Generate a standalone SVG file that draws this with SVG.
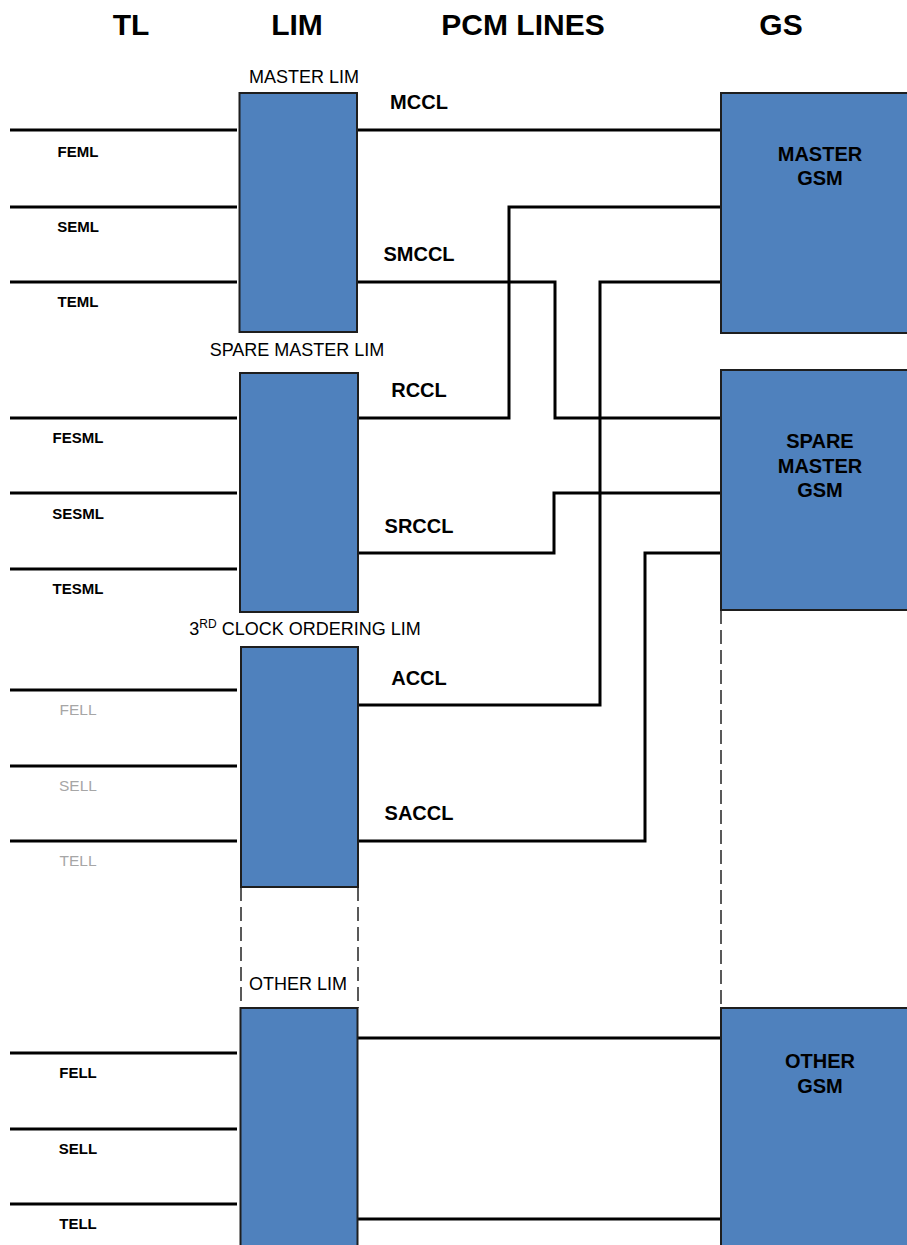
<svg xmlns="http://www.w3.org/2000/svg" width="907" height="1245" viewBox="0 0 907 1245">
<style>
.box{fill:#4f81bd;stroke:#1e1e1e;stroke-width:2}
.ln{fill:none;stroke:#000;stroke-width:3;stroke-linejoin:miter}
.dash{fill:none;stroke:#595959;stroke-width:2;stroke-dasharray:14 6}
.hdr{font-family:"Liberation Sans",Arial,sans-serif;font-weight:bold;font-size:30px;fill:#000;text-anchor:middle}
.lim{font-family:"Liberation Sans",Arial,sans-serif;font-size:18px;fill:#000;text-anchor:middle}
.pcm{font-family:"Liberation Sans",Arial,sans-serif;font-weight:bold;font-size:20px;fill:#000;text-anchor:middle}
.tl{font-family:"Liberation Sans",Arial,sans-serif;font-weight:bold;font-size:15px;fill:#000;text-anchor:middle}
.tlg{font-family:"Liberation Sans",Arial,sans-serif;font-size:15.5px;fill:#a6a6a6;text-anchor:middle}
.gsm{font-family:"Liberation Sans",Arial,sans-serif;font-weight:bold;font-size:20px;fill:#000;text-anchor:middle}
</style>
<g id="headers">
<text class="hdr" x="131" y="35">TL</text>
<text class="hdr" x="297" y="35">LIM</text>
<text class="hdr" x="523" y="35">PCM LINES</text>
<text class="hdr" x="781" y="35">GS</text>
</g>
<g id="connectors">
<line class="dash" x1="241" y1="887" x2="241" y2="1008"/>
<line class="dash" x1="358" y1="887" x2="358" y2="1008"/>
<line class="dash" x1="721" y1="610" x2="721" y2="1008"/>
<!-- TL lines -->
<line class="ln" x1="10" y1="130" x2="237" y2="130"/>
<line class="ln" x1="10" y1="207" x2="237" y2="207"/>
<line class="ln" x1="10" y1="282" x2="237" y2="282"/>
<line class="ln" x1="10" y1="418" x2="237" y2="418"/>
<line class="ln" x1="10" y1="493" x2="237" y2="493"/>
<line class="ln" x1="10" y1="569" x2="237" y2="569"/>
<line class="ln" x1="10" y1="690" x2="237" y2="690"/>
<line class="ln" x1="10" y1="766" x2="237" y2="766"/>
<line class="ln" x1="10" y1="841" x2="237" y2="841"/>
<line class="ln" x1="10" y1="1053" x2="237" y2="1053"/>
<line class="ln" x1="10" y1="1129" x2="237" y2="1129"/>
<line class="ln" x1="10" y1="1204" x2="237" y2="1204"/>
<!-- PCM lines -->
<polyline class="ln" points="358,130 721,130"/>
<polyline class="ln" points="721,207 509,207 509,418 358,418"/>
<polyline class="ln" points="358,282 555,282 555,418 721,418"/>
<polyline class="ln" points="721,282 600,282 600,705 358,705"/>
<polyline class="ln" points="721,493 554,493 554,553 358,553"/>
<polyline class="ln" points="721,553 645,553 645,841 358,841"/>
<polyline class="ln" points="358,1038 721,1038"/>
<polyline class="ln" points="358,1219 721,1219"/>
</g>
<g id="pcm-labels">
<text class="pcm" x="419" y="109">MCCL</text>
<text class="pcm" x="419" y="261">SMCCL</text>
<text class="pcm" x="419" y="397">RCCL</text>
<text class="pcm" x="419" y="533">SRCCL</text>
<text class="pcm" x="419" y="685">ACCL</text>
<text class="pcm" x="419" y="820">SACCL</text>
</g>
<g id="tl-labels">
<text class="tl" x="78" y="157">FEML</text>
<text class="tl" x="78" y="232">SEML</text>
<text class="tl" x="78" y="307">TEML</text>
<text class="tl" x="78" y="443">FESML</text>
<text class="tl" x="78" y="519">SESML</text>
<text class="tl" x="78" y="594">TESML</text>
<text class="tlg" x="78" y="715">FELL</text>
<text class="tlg" x="78" y="791">SELL</text>
<text class="tlg" x="78" y="866">TELL</text>
<text class="tl" x="78" y="1078">FELL</text>
<text class="tl" x="78" y="1154">SELL</text>
<text class="tl" x="78" y="1229">TELL</text>
</g>
<g id="master-lim">
<rect class="box" x="239.5" y="93" width="117.5" height="239"/>
<text class="lim" x="304" y="83">MASTER LIM</text>
</g>
<g id="spare-master-lim">
<rect class="box" x="240" y="373" width="118" height="239"/>
<text class="lim" x="297" y="356">SPARE MASTER LIM</text>
</g>
<g id="third-lim">
<rect class="box" x="241" y="647" width="117" height="240"/>
<text class="lim" x="305" y="635">3<tspan dy="-7" font-size="12">RD</tspan><tspan dy="7"> CLOCK ORDERING LIM</tspan></text>
</g>
<g id="other-lim">
<rect class="box" x="240.5" y="1008" width="117" height="250"/>
<text class="lim" x="298" y="990">OTHER LIM</text>
</g>
<g id="master-gsm">
<rect class="box" x="721" y="93" width="200" height="240"/>
<text class="gsm" x="820" y="161">MASTER</text>
<text class="gsm" x="820" y="185">GSM</text>
</g>
<g id="spare-master-gsm">
<rect class="box" x="721" y="370" width="200" height="240"/>
<text class="gsm" x="820" y="448">SPARE</text>
<text class="gsm" x="820" y="473">MASTER</text>
<text class="gsm" x="820" y="497">GSM</text>
</g>
<g id="other-gsm">
<rect class="box" x="721" y="1008" width="200" height="250"/>
<text class="gsm" x="820" y="1068">OTHER</text>
<text class="gsm" x="820" y="1093">GSM</text>
</g>
</svg>
